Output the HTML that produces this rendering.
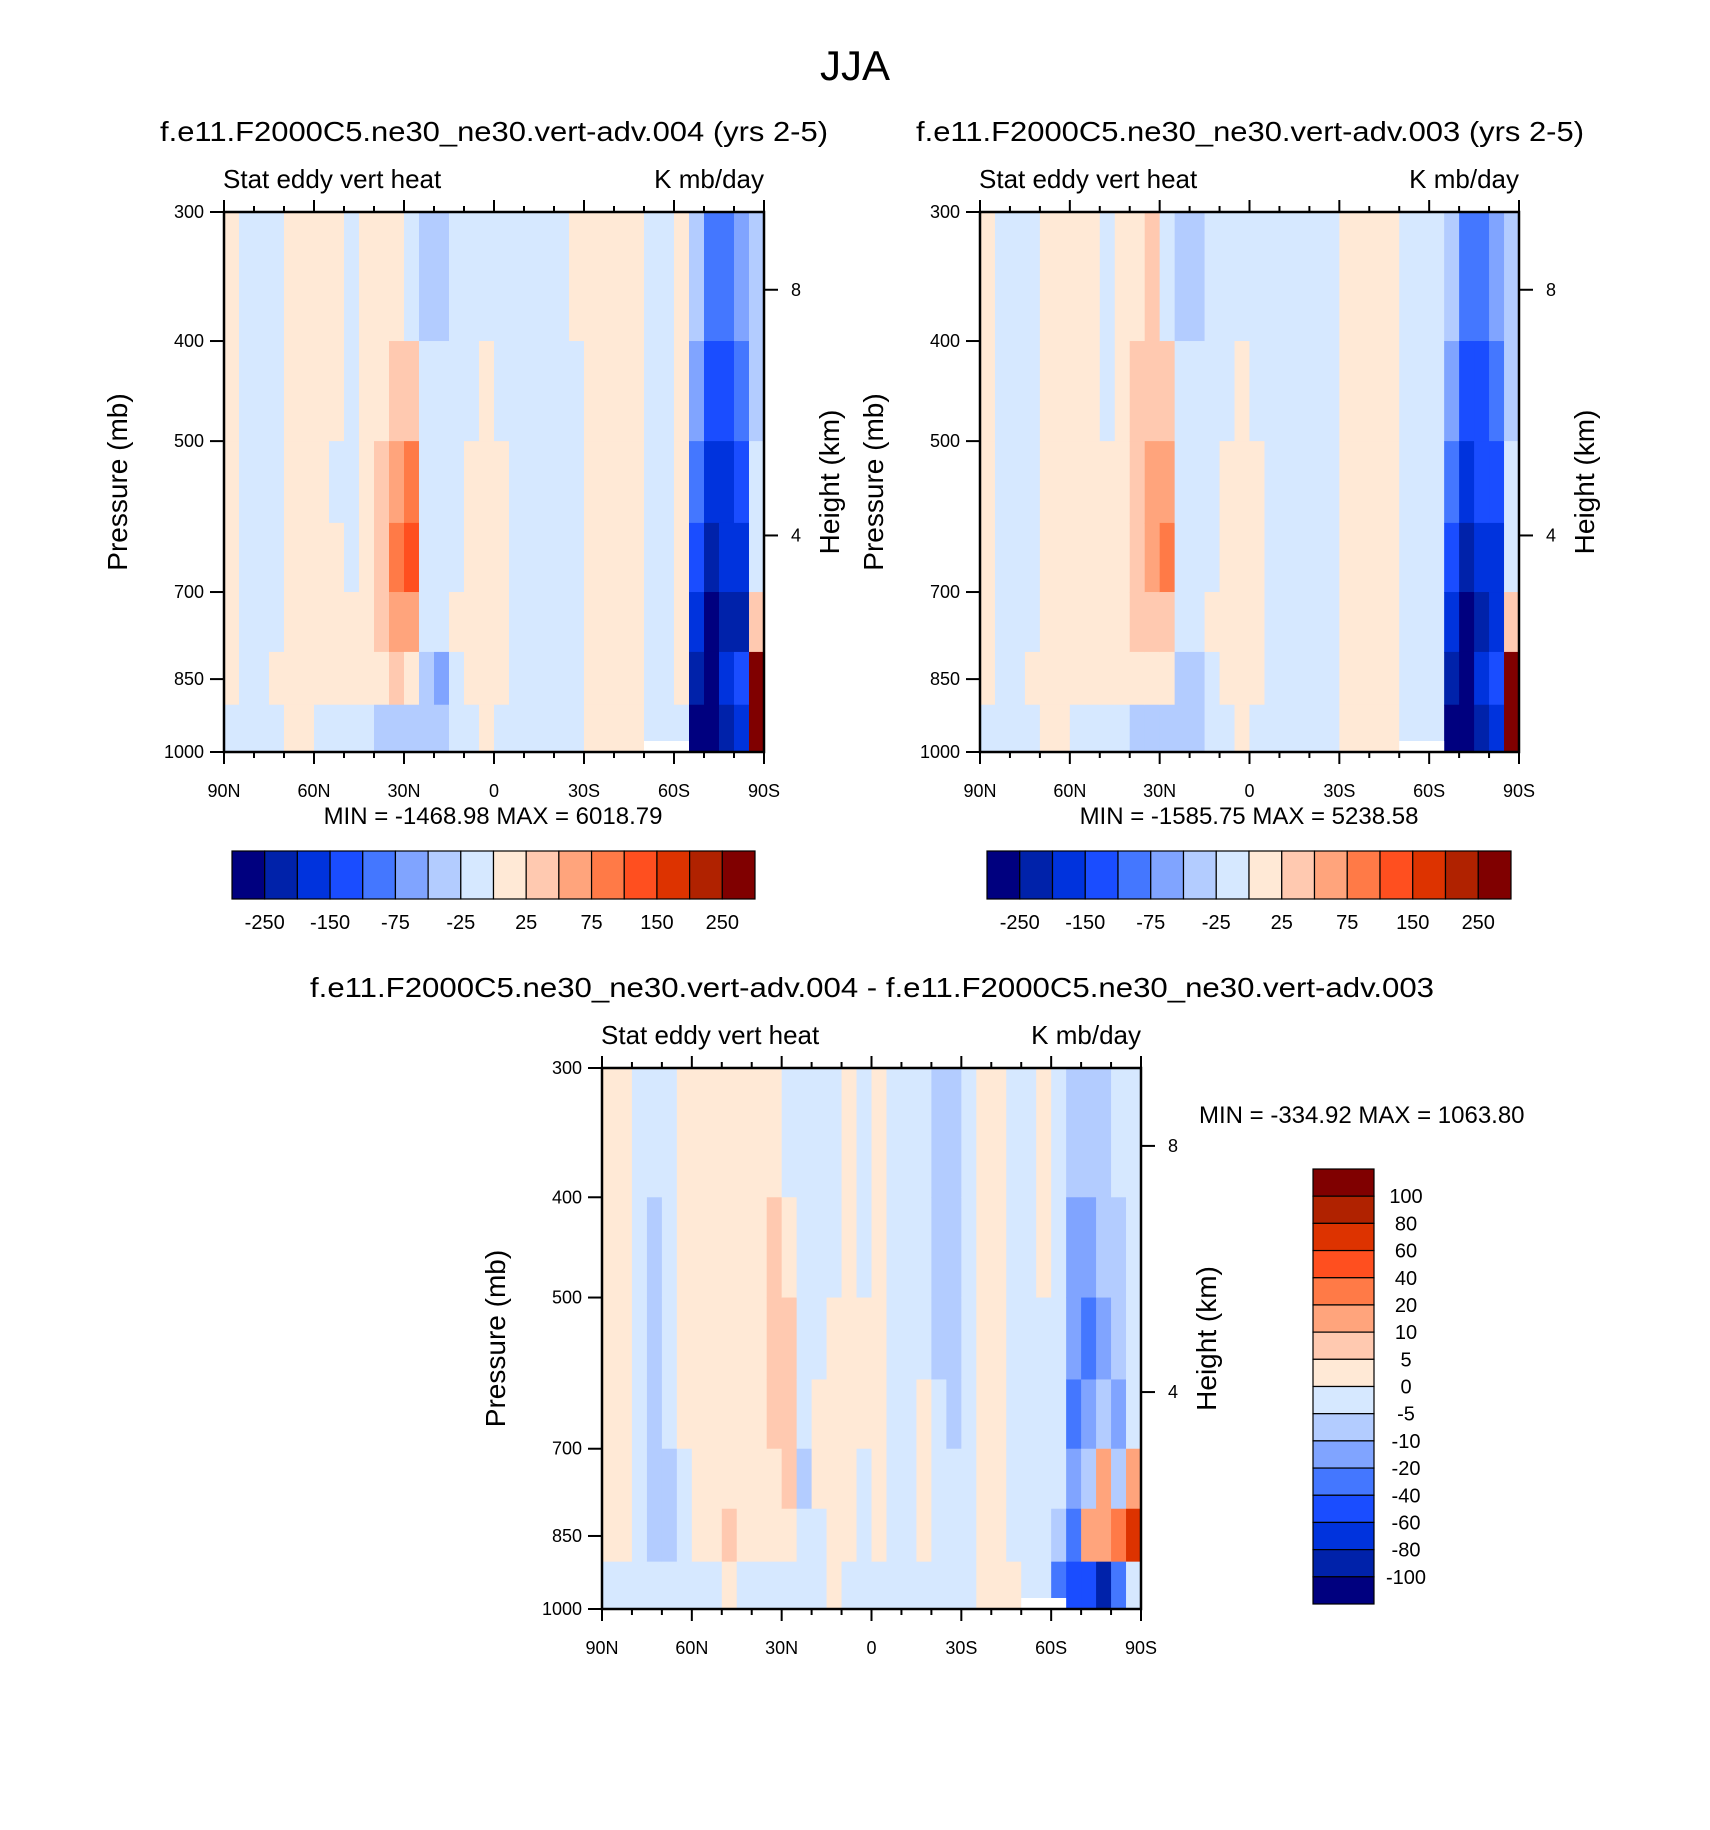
<!DOCTYPE html>
<html><head><meta charset="utf-8"><title>JJA Stat eddy vert heat</title>
<style>
html,body{margin:0;padding:0;background:#fff;}
svg{display:block;font-family:"Liberation Sans",Arial,sans-serif;}
</style></head>
<body>
<svg id="fig" width="1710" height="1830" viewBox="0 0 1710 1830" xmlns="http://www.w3.org/2000/svg">
<rect x="0" y="0" width="1710" height="1830" fill="#fff"/>
<text x="855" y="80" font-size="42" text-anchor="middle">JJA</text>
<text x="494" y="141" font-size="28" text-anchor="middle" textLength="668" lengthAdjust="spacingAndGlyphs">f.e11.F2000C5.ne30_ne30.vert-adv.004 (yrs 2-5)</text>
<text x="1250" y="141" font-size="28" text-anchor="middle" textLength="668" lengthAdjust="spacingAndGlyphs">f.e11.F2000C5.ne30_ne30.vert-adv.003 (yrs 2-5)</text>
<text x="872" y="997" font-size="28" text-anchor="middle" textLength="1124" lengthAdjust="spacingAndGlyphs">f.e11.F2000C5.ne30_ne30.vert-adv.004 - f.e11.F2000C5.ne30_ne30.vert-adv.003</text>
<g id="p1"></g>
<g id="p2"></g>
<g id="p3"></g>
<g id="cb1"></g>
<g id="cb2"></g>
<g id="cb3"></g>
<text x="493" y="824" font-size="24" text-anchor="middle">MIN = -1468.98  MAX = 6018.79</text>
<text x="1249" y="824" font-size="24" text-anchor="middle">MIN = -1585.75  MAX = 5238.58</text>
<text x="1199" y="1123" font-size="24">MIN = -334.92  MAX = 1063.80</text>
</svg>
<script>
// ---- data ----
const latCenters = [87.5,82.5,77.5,72.5,67.5,62.5,57.5,52.5,47.5,42.5,37.5,32.5,27.5,22.5,17.5,12.5,7.5,2.5,-2.5,-7.5,-12.5,-17.5,-22.5,-27.5,-32.5,-37.5,-42.5,-47.5,-52.5,-57.5,-62.5,-67.5,-72.5,-77.5,-82.5,-87.5];
const layerEdges = [300,400,500,600,700,800,900,1000];
const levelsMain = [-250,-200,-150,-100,-75,-50,-25,0,25,50,75,100,150,200,250];
const levelsDiff = [-100,-80,-60,-40,-20,-10,-5,0,5,10,20,40,60,80,100];
const labelsMain = ["-250","-150","-75","-25","25","75","150","250"];
const labelsDiff = ["100","80","60","40","20","10","5","0","-5","-10","-20","-40","-60","-80","-100"];
const p1Vals = [
[10,10,10,10,10,10,-10],[-10,-10,-10,-10,-10,-10,-10],[-10,-10,-10,-10,-10,-10,-10],[-10,-10,-10,-10,-10,10,-10],
[10,10,10,10,10,10,10],[10,10,10,10,10,10,10],[10,10,10,10,10,10,-10],[10,10,-10,10,10,10,-10],
[-10,-10,-10,-10,10,10,-10],[10,10,10,10,10,10,-10],[10,10,40,40,40,10,-35],[10,40,60,90,60,40,-35],
[-10,40,90,125,60,10,-35],[-35,-10,-10,-10,-10,-35,-35],[-35,-10,-10,-10,-10,-60,-35],[-10,-10,-10,-10,10,-10,-10],
[-10,-10,10,10,10,10,-10],[-10,10,10,10,10,10,10],[-10,-10,10,10,10,10,-10],[-10,-10,-10,-10,-10,-10,-10],
[-10,-10,-10,-10,-10,-10,-10],[-10,-10,-10,-10,-10,-10,-10],[-10,-10,-10,-10,-10,-10,-10],[10,-10,-10,-10,-10,-10,-10],
[10,10,10,10,10,10,10],[10,10,10,10,10,10,10],[10,10,10,10,10,10,10],[10,10,10,10,10,10,10],
[-10,-10,-10,-10,-10,-10,-10],[-10,-10,-10,-10,-10,-10,-10],[10,10,10,10,10,10,-10],[-35,-60,-90,-125,-175,-225,-300],
[-90,-125,-175,-225,-300,-300,-300],[-90,-125,-175,-175,-225,-175,-225],[-60,-90,-125,-175,-225,-125,-175],[-35,-35,-10,-10,40,300,300]];
const p2Vals = [
[10,10,10,10,10,10,-10],[-10,-10,-10,-10,-10,-10,-10],[-10,-10,-10,-10,-10,-10,-10],[-10,-10,-10,-10,-10,10,-10],
[10,10,10,10,10,10,10],[10,10,10,10,10,10,10],[10,10,10,10,10,10,-10],[10,10,10,10,10,10,-10],
[-10,-10,10,10,10,10,-10],[10,10,10,10,10,10,-10],[10,40,40,40,40,10,-35],[40,40,60,60,40,10,-35],
[-10,40,60,90,40,10,-35],[-35,-10,-10,-10,-10,-35,-35],[-35,-10,-10,-10,-10,-35,-35],[-10,-10,-10,-10,10,-10,-10],
[-10,-10,10,10,10,10,-10],[-10,10,10,10,10,10,10],[-10,-10,10,10,10,10,-10],[-10,-10,-10,-10,-10,-10,-10],
[-10,-10,-10,-10,-10,-10,-10],[-10,-10,-10,-10,-10,-10,-10],[-10,-10,-10,-10,-10,-10,-10],[-10,-10,-10,-10,-10,-10,-10],
[10,10,10,10,10,10,10],[10,10,10,10,10,10,10],[10,10,10,10,10,10,10],[10,10,10,10,10,10,10],
[-10,-10,-10,-10,-10,-10,-10],[-10,-10,-10,-10,-10,-10,-10],[-10,-10,-10,-10,-10,-10,-10],[-35,-60,-90,-125,-175,-225,-300],
[-90,-125,-175,-225,-300,-300,-300],[-90,-125,-125,-175,-225,-175,-225],[-60,-90,-125,-175,-175,-125,-175],[-35,-35,-10,-10,40,300,300]];
const p3Vals = [
[2,2,2,2,2,2,-2],[2,2,2,2,2,2,-2],[-2,-2,-2,-2,-2,-2,-2],[-2,-7,-7,-7,-7,-7,-2],
[-2,-2,-2,-2,-7,-7,-2],[2,2,2,2,-2,-2,-2],[2,2,2,2,2,2,-2],[2,2,2,2,2,2,-2],
[2,2,2,2,2,7,2],[2,2,2,2,2,2,-2],[2,2,2,2,2,2,-2],[2,7,7,7,2,2,-2],
[-2,2,7,7,7,2,-2],[-2,-2,-2,-2,-7,-2,-2],[-2,-2,-2,2,2,-2,-2],[-2,-2,2,2,2,2,2],
[2,2,2,2,2,2,-2],[-2,-2,2,2,-2,-2,-2],[2,2,2,2,2,2,-2],[-2,-2,-2,-2,-2,-2,-2],
[-2,-2,-2,-2,-2,-2,-2],[-2,-2,-2,2,2,2,-2],[-7,-7,-7,-2,-2,-2,-2],[-7,-7,-7,-7,-2,-2,-2],
[-2,-2,-2,-2,-2,-2,-2],[2,2,2,2,2,2,2],[2,2,2,2,2,2,2],[-2,-2,-2,-2,-2,-2,2],
[-2,-2,-2,-2,-2,-2,-2],[2,2,-2,-2,-2,-2,-2],[-2,-2,-2,-2,-2,-7,-30],[-7,-15,-15,-30,-15,-30,-50],
[-7,-15,-30,-15,-7,15,-50],[-7,-7,-15,-7,15,15,-90],[-2,-7,-7,-15,-7,30,-30],[-2,-2,-2,-2,15,60,-2]];
const palette = ["#00007f","#0022aa","#0033dd","#1a4dff","#4477ff","#80a4ff","#b3ccff","#d6e8ff","#ffe9d6","#ffc9b0","#ffa47c","#ff7a47","#ff4f1f","#dd3300","#b02200","#800000"];
const xTickLabels = ["90N","60N","30N","0","30S","60S","90S"];
const pTicks = [300,400,500,700,850,1000];
const hTicks = [8,4];
const hTickFrac = [0.144,0.599];

// ---- helpers ----
const NS = "http://www.w3.org/2000/svg";
function mk(tag, attrs, parent){const e=document.createElementNS(NS,tag);for(const k in attrs)e.setAttribute(k,attrs[k]);parent.appendChild(e);return e;}
function colorFor(v, lev){let i=0;while(i<lev.length&&v>=lev[i])i++;return palette[i];}

function drawPanel(gid, X0, Y0, W, H, vals, lev){
  const g=document.getElementById(gid);
  const xs=lat=>X0+(90-lat)/180*W;
  const ys=p=>Y0+(Math.log(p)-Math.log(300))/(Math.log(1000)-Math.log(300))*H;
  for(let i=0;i<latCenters.length;i++){
    for(let j=0;j<layerEdges.length-1;j++){
      const x1=xs(latCenters[i]+2.5), x2=xs(latCenters[i]-2.5);
      const y1=ys(layerEdges[j]), y2=ys(layerEdges[j+1]);
      const r=mk("rect",{x:x1.toFixed(2),y:y1.toFixed(2),width:(x2-x1+0.6).toFixed(2),height:(y2-y1+0.6).toFixed(2),fill:colorFor(vals[i][j],lev)},g);
      
      
    }
  }
  const wp=mk("rect",{x:xs(-50),y:Y0+H-11,width:xs(-65)-xs(-50),height:11,fill:"#fff"},g);
  
  
  const fr=mk("rect",{x:X0,y:Y0,width:W,height:H,fill:"none",stroke:"#000","stroke-width":2.5},g);
  
  
  for(let lat=90;lat>=-90;lat-=10){
    const x=xs(lat), major=(lat%30===0), L=major?12:6;
    mk("line",{x1:x,x2:x,y1:Y0+H,y2:Y0+H+L,stroke:"#000","stroke-width":2},g);
    mk("line",{x1:x,x2:x,y1:Y0,y2:Y0-L,stroke:"#000","stroke-width":2},g);
  }
  for(let k=0;k<xTickLabels.length;k++){
    const t=mk("text",{x:xs(90-30*k),y:Y0+H+45,"font-size":18,"text-anchor":"middle"},g);
    t.textContent=xTickLabels[k];
    
    
  }
  for(const p of pTicks){
    const y=ys(p);
    mk("line",{x1:X0-14,x2:X0,y1:y,y2:y,stroke:"#000","stroke-width":2},g);
    const t=mk("text",{x:X0-20,y:y+6,"font-size":18,"text-anchor":"end"},g);
    t.textContent=String(p);
    
    
  }
  for(let k=0;k<hTicks.length;k++){
    const y=Y0+hTickFrac[k]*H;
    mk("line",{x1:X0+W,x2:X0+W+14,y1:y,y2:y,stroke:"#000","stroke-width":2},g);
    const t=mk("text",{x:X0+W+27,y:y+6,"font-size":18},g);
    t.textContent=String(hTicks[k]);
    
    
  }
  const a=mk("text",{x:X0-1,y:Y0-24,"font-size":26},g);
  a.textContent="Stat eddy vert heat";
  
  
  const b=mk("text",{x:X0+W,y:Y0-24,"font-size":26,"text-anchor":"end"},g);
  b.textContent="K mb/day";
  
  
  const yl=mk("text",{x:0,y:0,"font-size":28,"text-anchor":"middle",transform:`translate(${X0-97},${Y0+H/2}) rotate(-90)`},g);
  yl.textContent="Pressure (mb)";
  
  
  const hl=mk("text",{x:0,y:0,"font-size":28,"text-anchor":"middle",transform:`translate(${X0+W+75},${Y0+H/2}) rotate(-90)`},g);
  hl.textContent="Height (km)";
  
  
}

function hColorbar(gid,X0,Y0,W,H){
  const g=document.getElementById(gid), n=palette.length, bw=W/n;
  for(let i=0;i<n;i++){
    const r=mk("rect",{x:X0+i*bw,y:Y0,width:bw,height:H,fill:palette[i],stroke:"#000","stroke-width":1.2},g);
    
    
  }
  for(let k=0;k<labelsMain.length;k++){
    const t=mk("text",{x:X0+(2*k+1)*bw,y:Y0+H+30,"font-size":20,"text-anchor":"middle"},g);
    t.textContent=labelsMain[k];
    
    
  }
}
function vColorbar(gid,X0,Y0,W,H){
  const g=document.getElementById(gid), n=palette.length, bh=H/n;
  for(let i=0;i<n;i++){
    const r=mk("rect",{x:X0,y:Y0+i*bh,width:W,height:bh,fill:palette[n-1-i],stroke:"#000","stroke-width":1.2},g);
    
    
  }
  for(let k=0;k<labelsDiff.length;k++){
    const t=mk("text",{x:X0+W+32,y:Y0+(k+1)*bh+7,"font-size":20,"text-anchor":"middle"},g);
    t.textContent=labelsDiff[k];
    
    
  }
}

drawPanel("p1",224,212,540,540,p1Vals,levelsMain);
drawPanel("p2",980,212,539,540,p2Vals,levelsMain);
drawPanel("p3",602,1068,539,541,p3Vals,levelsDiff);
hColorbar("cb1",232,851,523,48);
hColorbar("cb2",987,851,524,48);
vColorbar("cb3",1313,1169,61,435);
</script>
</body></html>
